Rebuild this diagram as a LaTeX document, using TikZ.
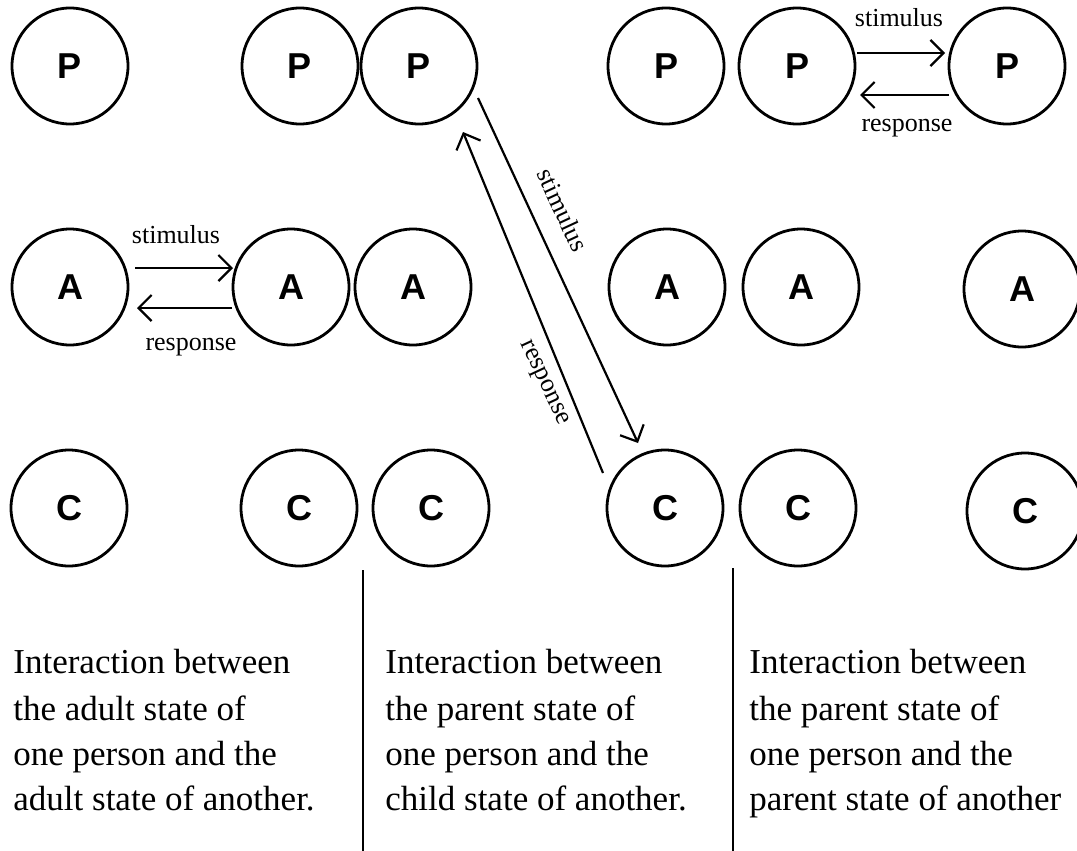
\documentclass[tikz,border=0pt]{standalone}
\usepackage{fontspec}
\setmainfont{Liberation Serif}
\newfontfamily\statefont{Liberation Sans}
\usetikzlibrary{arrows.meta}
\tikzset{
  state/.style={circle,draw,line width=1.4pt,minimum size=58pt,inner sep=0pt,
    font=\statefont\bfseries\fontsize{18}{18}\selectfont},
  arr/.style={line width=1.1pt,-{Straight Barb[length=6.5pt,width=13pt,line width=1.1pt]}},
  lbl/.style={font=\fontsize{13}{13}\selectfont,inner sep=0pt},
  captext/.style={anchor=base west,inner sep=0pt,font=\fontsize{17.5}{17.5}\selectfont},
  divider/.style={line width=0.8pt}
}
\begin{document}
\begin{tikzpicture}[x=0.5pt,y=-0.5pt]
\useasboundingbox (0,0) rectangle (1077,851);
% P row
\node[state] (p1) at (70,66) {P};
\node[state] (p2) at (300,66) {P};
\node[state] (p3) at (419,66) {P};
\node[state] (p4) at (666,66) {P};
\node[state] (p5) at (797,66) {P};
\node[state] (p6) at (1007,66) {P};
% A row
\node[state] (a1) at (70,287) {A};
\node[state] (a2) at (291,287) {A};
\node[state] (a3) at (413,287) {A};
\node[state] (a4) at (667,287) {A};
\node[state] (a5) at (801,287) {A};
\node[state] (a6) at (1022,289) {A};
% C row
\node[state] (c1) at (69,508) {C};
\node[state] (c2) at (299,508) {C};
\node[state] (c3) at (431,508) {C};
\node[state] (c4) at (665,508) {C};
\node[state] (c5) at (798,508) {C};
\node[state] (c6) at (1025,511) {C};
% adult - adult
\coordinate (as1) at (135,268);
\coordinate (as2) at (233,268);
\coordinate (ar1) at (232,308);
\coordinate (ar2) at (137,308);
\draw[arr] (as1) -- (as2);
\draw[arr] (ar1) -- (ar2);
\node[lbl] (asl) at (176,235) {stimulus};
\node[lbl] (arl) at (191,347) {response};
% parent - parent
\coordinate (ps1) at (857,53);
\coordinate (ps2) at (945,53);
\coordinate (pr1) at (949,95);
\coordinate (pr2) at (860,95);
\draw[arr] (ps1) -- (ps2);
\draw[arr] (pr1) -- (pr2);
\node[lbl] (psl) at (899,18) {stimulus};
\node[lbl] (prl) at (907,128) {response};
% parent - child
\coordinate (ds1) at (478,98);
\coordinate (ds2) at (638,443);
\coordinate (dr1) at (603,473);
\coordinate (dr2) at (463,132);
\draw[arr] (ds1) -- (ds2);
\draw[arr] (dr1) -- (dr2);
\node[lbl,rotate=-65] (dsl) at (563,210) {stimulus};
\node[lbl,rotate=-65] (drl) at (543,383) {response};
% dividers
\coordinate (v1t) at (363,570);
\coordinate (v1b) at (363,851);
\coordinate (v2t) at (733,568);
\coordinate (v2b) at (733,851);
\draw[divider] (v1t) -- (v1b);
\draw[divider] (v2t) -- (v2b);
% captions
\node[captext] (t11) at (13,673) {Interaction between};
\node[captext] (t12) at (13,720) {the adult state of};
\node[captext] (t13) at (13,765) {one person and the};
\node[captext] (t14) at (13,810) {adult state of another.};
\node[captext] (t21) at (385,673) {Interaction between};
\node[captext] (t22) at (385,720) {the parent state of};
\node[captext] (t23) at (385,765) {one person and the};
\node[captext] (t24) at (385,810) {child state of another.};
\node[captext] (t31) at (749,673) {Interaction between};
\node[captext] (t32) at (749,720) {the parent state of};
\node[captext] (t33) at (749,765) {one person and the};
\node[captext] (t34) at (749,810) {parent state of another};
\end{tikzpicture}
\end{document}
